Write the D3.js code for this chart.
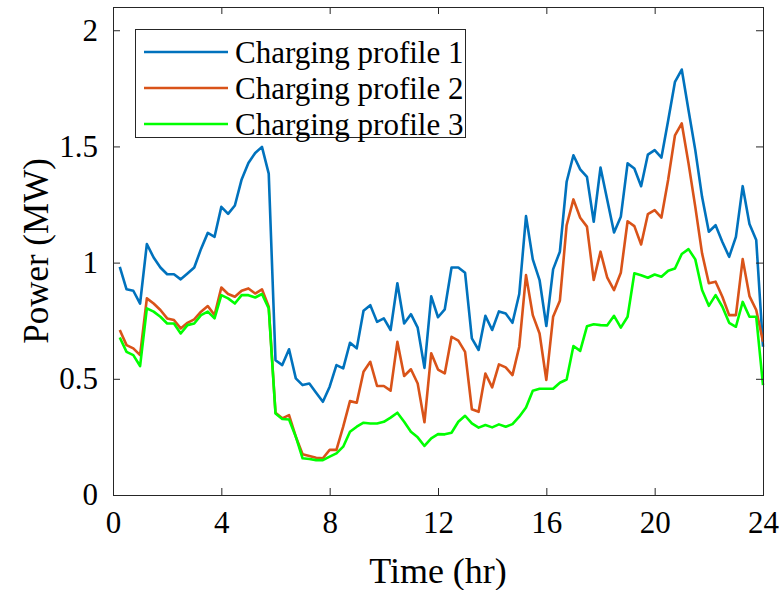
<!DOCTYPE html>
<html>
<head>
<meta charset="utf-8">
<script src="https://cdn.jsdelivr.net/npm/d3@7"></script>
<style>
  html, body { margin: 0; padding: 0; background: #fff; }
  svg { display: block; font-family: "Liberation Serif", "Times New Roman", serif; }
</style>
</head>
<body>
<div id="chart"></div>
<script>
// 15-min samples, 0.25 .. 24 hr
var hours = d3.range(1, 97).map(function (k) { return k * 0.25 })

var profile1 = [
  0.982, 0.885, 0.879, 0.824, 1.080, 1.022, 0.979, 0.950, 0.950, 0.928, 0.953, 0.979,
  1.059, 1.128, 1.111, 1.240, 1.210, 1.246, 1.358, 1.429, 1.472, 1.498, 1.383, 0.580,
  0.559, 0.627, 0.502, 0.473, 0.480, 0.440, 0.401, 0.466, 0.559, 0.545, 0.655, 0.631,
  0.793, 0.817, 0.745, 0.760, 0.710, 0.911, 0.738, 0.778, 0.720, 0.547, 0.855, 0.765,
  0.799, 0.979, 0.979, 0.956, 0.674, 0.624, 0.771, 0.710, 0.790, 0.781, 0.741, 0.865,
  1.200, 1.014, 0.925, 0.727, 0.971, 1.047, 1.348, 1.462, 1.401, 1.369, 1.176, 1.409,
  1.269, 1.130, 1.197, 1.427, 1.405, 1.329, 1.465, 1.484, 1.452, 1.613, 1.778, 1.831,
  1.656, 1.484, 1.283, 1.133, 1.161, 1.089, 1.025, 1.111, 1.329, 1.166, 1.097, 0.638
]

var profile2 = [
  0.710, 0.645, 0.631, 0.602, 0.846, 0.824, 0.796, 0.760, 0.753, 0.717, 0.741, 0.756,
  0.789, 0.813, 0.774, 0.893, 0.865, 0.853, 0.879, 0.889, 0.867, 0.885, 0.810, 0.354,
  0.330, 0.344, 0.251, 0.175, 0.168, 0.160, 0.158, 0.194, 0.194, 0.294, 0.404, 0.397,
  0.530, 0.573, 0.469, 0.469, 0.449, 0.659, 0.512, 0.541, 0.480, 0.313, 0.610, 0.540,
  0.523, 0.681, 0.664, 0.616, 0.369, 0.358, 0.523, 0.463, 0.562, 0.549, 0.516, 0.638,
  0.946, 0.774, 0.695, 0.495, 0.767, 0.836, 1.161, 1.272, 1.193, 1.155, 0.925, 1.047,
  0.935, 0.882, 0.956, 1.178, 1.157, 1.078, 1.209, 1.226, 1.194, 1.358, 1.548, 1.599,
  1.427, 1.240, 1.040, 0.911, 0.918, 0.853, 0.774, 0.774, 1.015, 0.856, 0.796, 0.660
]

var profile3 = [
  0.678, 0.616, 0.602, 0.555, 0.803, 0.789, 0.767, 0.738, 0.738, 0.695, 0.731, 0.738,
  0.774, 0.789, 0.760, 0.860, 0.846, 0.824, 0.860, 0.860, 0.850, 0.865, 0.803, 0.351,
  0.327, 0.325, 0.251, 0.158, 0.155, 0.150, 0.150, 0.165, 0.179, 0.208, 0.272, 0.294,
  0.311, 0.308, 0.308, 0.315, 0.333, 0.354, 0.315, 0.272, 0.248, 0.211, 0.244, 0.262,
  0.261, 0.268, 0.315, 0.341, 0.308, 0.290, 0.301, 0.291, 0.304, 0.294, 0.305, 0.337,
  0.377, 0.449, 0.457, 0.457, 0.457, 0.483, 0.497, 0.641, 0.620, 0.726, 0.735, 0.731,
  0.730, 0.771, 0.720, 0.767, 0.954, 0.946, 0.935, 0.949, 0.939, 0.965, 0.975, 1.037,
  1.058, 1.014, 0.882, 0.814, 0.860, 0.810, 0.741, 0.724, 0.831, 0.767, 0.767, 0.473
]

var seriesNames = ['Charging profile 1', 'Charging profile 2', 'Charging profile 3']
var seriesColors = ['#0072BD', '#D95319', '#00FF00']
var xTicks = [0, 4, 8, 12, 16, 20, 24]
var yTicks = [0, 0.5, 1, 1.5, 2]

;(function (d3) {
  var W = 782, H = 590
  var margin = { top: 7, right: 19, bottom: 95, left: 113 }
  var width = W - margin.left - margin.right
  var height = H - margin.top - margin.bottom
  var axisColor = '#262626'

  var svg = d3.select('#chart').append('svg')
    .attr('width', W)
    .attr('height', H)

  var x = d3.scaleLinear().domain([0, 24]).range([0, width])
  var y = d3.scaleLinear().domain([0, 2.1]).range([height, 0])

  var g = svg.append('g')
    .attr('transform', 'translate(' + margin.left + ',' + margin.top + ')')

  // lines
  var data = [profile1, profile2, profile3]
  var line = d3.line()
    .x(function (d, i) { return x(hours[i]) })
    .y(function (d) { return y(d) })

  g.selectAll('.series')
    .data(data)
    .enter()
    .append('path')
    .attr('class', 'series')
    .attr('fill', 'none')
    .attr('stroke', function (d, i) { return seriesColors[i] })
    .attr('stroke-width', 2.6)
    .attr('stroke-linejoin', 'round')
    .attr('d', line)

  // axes (matlab style box, ticks inside, mirrored)
  function styleAxis (sel) {
    sel.select('.domain').remove()
    sel.selectAll('.tick line').attr('stroke', axisColor).attr('stroke-width', 1)
    sel.selectAll('.tick text')
      .attr('fill', '#000')
      .style('font-size', '31px')
      .style('font-family', '"Liberation Serif", "Times New Roman", serif')
  }

  g.append('g')
    .attr('transform', 'translate(0,' + height + ')')
    .call(d3.axisBottom(x).tickValues(xTicks).tickSizeInner(-7).tickSizeOuter(0).tickPadding(16).tickFormat(d3.format('d')))
    .call(styleAxis)

  g.append('g')
    .call(d3.axisTop(x).tickValues(xTicks).tickSizeInner(-7).tickSizeOuter(0).tickFormat(''))
    .call(styleAxis)

  g.append('g')
    .call(d3.axisLeft(y).tickValues(yTicks).tickSizeInner(-7).tickSizeOuter(0).tickPadding(15).tickFormat(function (d) { return d }))
    .call(styleAxis)

  g.append('g')
    .attr('transform', 'translate(' + width + ',0)')
    .call(d3.axisRight(y).tickValues(yTicks).tickSizeInner(-7).tickSizeOuter(0).tickFormat(''))
    .call(styleAxis)

  g.append('rect')
    .attr('width', width)
    .attr('height', height)
    .attr('fill', 'none')
    .attr('stroke', axisColor)
    .attr('stroke-width', 1)
    .attr('shape-rendering', 'crispEdges')

  // axis labels
  svg.append('text')
    .attr('x', margin.left + width / 2)
    .attr('y', 583)
    .attr('text-anchor', 'middle')
    .style('font-size', '36px')
    .text('Time (hr)')

  svg.append('text')
    .attr('transform', 'translate(48,' + (margin.top + height / 2) + ') rotate(-90)')
    .attr('text-anchor', 'middle')
    .style('font-size', '35px')
    .text('Power (MW)')

  // legend
  var legend = svg.append('g').attr('transform', 'translate(135,29)')
  legend.append('rect')
    .attr('width', 330)
    .attr('height', 108)
    .attr('fill', '#fff')
    .attr('stroke', axisColor)
    .attr('stroke-width', 1)
    .attr('shape-rendering', 'crispEdges')

  var item = legend.selectAll('.item')
    .data(seriesNames)
    .enter()
    .append('g')
    .attr('class', 'item')
    .attr('transform', function (d, i) { return 'translate(0,' + (23 + i * 36) + ')' })

  item.append('line')
    .attr('x1', 9).attr('x2', 93)
    .attr('stroke', function (d, i) { return seriesColors[i] })
    .attr('stroke-width', 2.6)

  item.append('text')
    .attr('x', 100)
    .attr('dy', '0.35em')
    .style('font-size', '31px')
    .text(function (d) { return d })
})(d3);
</script>
</body>
</html>
